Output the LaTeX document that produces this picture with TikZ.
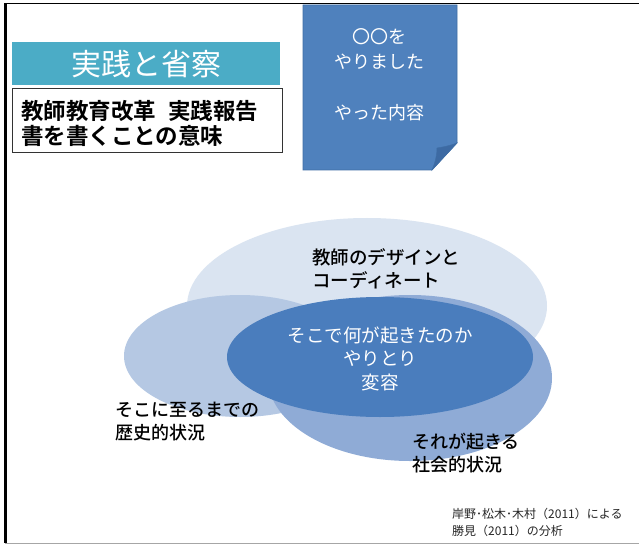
\documentclass[tikz,border=0pt]{standalone}
\usepackage{fontspec}
\usetikzlibrary{shapes.geometric}
\newfontfamily\jp{Noto Sans CJK JP}
\newfontfamily\jpm{Noto Sans CJK JP Medium}
\newfontfamily\jpb{Noto Sans CJK JP Bold}
\definecolor{teal1}{HTML}{4BACC6}
\definecolor{note}{HTML}{4F81BD}
\definecolor{noteedge}{HTML}{3F6EA6}
\definecolor{flap}{HTML}{3D6AA3}
\definecolor{ellA}{HTML}{DAE4F1}
\definecolor{ellB}{HTML}{B5C8E3}
\definecolor{ellC}{HTML}{8FABD6}
\definecolor{ellD}{HTML}{4A7DBD}
\begin{document}
\begin{tikzpicture}[x=1pt,y=-1pt,
  blob/.style={ellipse, inner sep=0pt, draw=none},
  lbl/.style={anchor=west, align=left, inner sep=0pt, text=black},
  wtxt/.style={align=center, inner sep=0pt, text=white}]
\useasboundingbox (0,0) rectangle (639,545);
\fill[white] (0,0) rectangle (639,545);
% frame
\draw[line width=1.8pt, black] (4,3.5) -- (639,3.5);
\draw[line width=2.4pt, black] (5.3,3.5) -- (5.3,543);
\draw[line width=1.6pt, gray!70] (5,543.5) -- (639,543.5);

% title boxes
\node[fill=teal1, minimum width=268pt, minimum height=43pt, inner sep=0pt,
  text=white, font=\jp\fontsize{30}{34}\selectfont] (title) at (146,64) {実践と省察};
\node[draw=black!80, line width=0.8pt, fill=white, minimum width=270pt, minimum height=64pt, inner sep=0pt] (sub) at (147,120.5) {};
\node[lbl, font=\jpb\fontsize{22.5}{25}\selectfont] (subtxt) at (21,123.5)
  {教師教育改革\hspace{12pt}実践報告\\書を書くことの意味};

% folded note
\fill[note, draw=noteedge, line width=0.6pt] (303,5) -- (457,5) -- (457,143) -- (432,170) -- (303,170) -- cycle;
\fill[flap, draw=noteedge, line width=0.5pt] (457,143) .. controls (449,146) and (443,147) .. (437,148)
  .. controls (437,156) and (435,163) .. (432,170) -- cycle;
\node[wtxt, font=\jp\fontsize{18}{25.5}\selectfont] (notetxt) at (379,75)
  {〇〇を\\やりました\\[25.5pt]やった内容};

% ellipses
\node[blob, fill=ellA, minimum width=360pt, minimum height=176pt] (design) at (367,306) {};
\node[blob, fill=ellB, minimum width=232pt, minimum height=122pt] (hist) at (240,356) {};
\node[blob, fill=ellC, minimum width=284pt, minimum height=166pt] (soc) at (410,378) {};
\node[blob, fill=ellD, minimum width=306pt, minimum height=120pt] (core) at (380,357) {};

\node[wtxt, font=\jp\fontsize{18.5}{23.5}\selectfont] (coretxt) at (380,358.5)
  {そこで何が起きたのか\\やりとり\\変容};
\node[lbl, font=\jpm\fontsize{18.5}{23}\selectfont] (designtxt) at (312,268.5)
  {教師のデザインと\\コーディネート};
\node[lbl, font=\jpm\fontsize{18}{23}\selectfont] (histtxt) at (115,421.5)
  {そこに至るまでの\\歴史的状況};
\node[lbl, font=\jpm\fontsize{18}{23}\selectfont] (soctxt) at (412,453.5)
  {それが起きる\\社会的状況};

% source
\node[lbl, font=\jp\fontsize{12}{17}\selectfont, text=black!85] (src) at (452,522.5)
  {岸野･松木･木村（2011）による\\勝見（2011）の分析};
\end{tikzpicture}
\end{document}
